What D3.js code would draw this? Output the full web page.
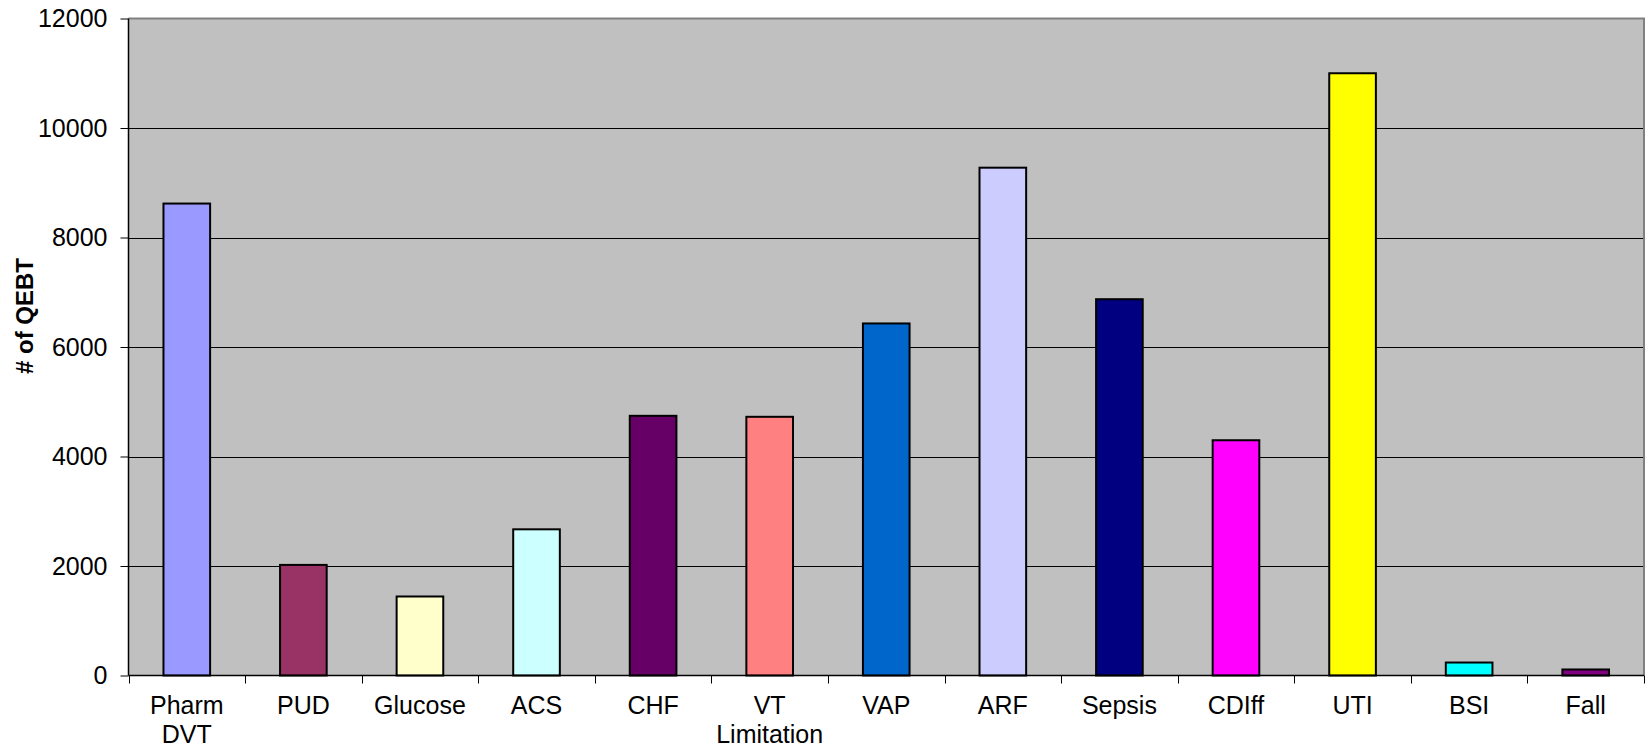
<!DOCTYPE html>
<html>
<head>
<meta charset="utf-8">
<script src="https://cdn.jsdelivr.net/npm/d3@7"></script>
<style>
  html, body { margin: 0; padding: 0; background: #ffffff; }
  svg { display: block; }
  text { font-family: "Liberation Sans", Arial, sans-serif; }
</style>
</head>
<body>
<svg id="chart" width="1652" height="747"></svg>
<script>
const categories = [["Pharm", "DVT"], ["PUD"], ["Glucose"], ["ACS"], ["CHF"], ["VT", "Limitation"], ["VAP"], ["ARF"], ["Sepsis"], ["CDIff"], ["UTI"], ["BSI"], ["Fall"]];
const values = [8620, 2020, 1443, 2670, 4743, 4725, 6430, 9275, 6873, 4297, 11000, 237, 110];
const colors = ["#9999FF", "#993366", "#FFFFCC", "#CCFFFF", "#660066", "#FF8080", "#0066CC", "#CCCCFF", "#000080", "#FF00FF", "#FFFF00", "#00FFFF", "#800080"];
const yTicks = [0, 2000, 4000, 6000, 8000, 10000, 12000];
const yTitle = "# of QEBT";

(function () {
const svg = d3.select("#chart");
const pL = 128.5, pR = 1644, pT = 18.5, pB = 675.5;

const keys = categories.map((c, i) => i);
const x = d3.scaleBand().domain(keys).range([pL, pR]).paddingInner(0.6).paddingOuter(0.3);
const xb = d3.scaleBand().domain(keys).range([pL, pR]);
const y = d3.scaleLinear().domain([0, 12000]).range([pB, pT]);

// plot background
svg.append("rect").attr("x", pL).attr("y", pT).attr("width", pR - pL).attr("height", pB - pT)
  .attr("fill", "#C0C0C0");

// gridlines
svg.append("g").selectAll("line").data(yTicks.filter(d => d > 0 && d < 12000)).join("line")
  .attr("x1", pL).attr("x2", pR)
  .attr("y1", d => Math.round(y(d)) + 0.5).attr("y2", d => Math.round(y(d)) + 0.5)
  .attr("stroke", "#000").attr("stroke-width", 1);

// plot border (top & right) gray
svg.append("path")
  .attr("d", `M${pL},${pT} H${pR} V${pB}`)
  .attr("fill", "none").attr("stroke", "#808080").attr("stroke-width", 2);

// bars
svg.append("g").selectAll("rect").data(values).join("rect")
  .attr("x", (d, i) => x(i))
  .attr("y", d => y(d))
  .attr("width", x.bandwidth())
  .attr("height", d => y(0) - y(d))
  .attr("fill", (d, i) => colors[i])
  .attr("stroke", "#000").attr("stroke-width", 2);

// y axis
const yAxis = d3.axisLeft(y).tickValues(yTicks).tickSize(8).tickPadding(13).tickFormat(d3.format("d"));
const gy = svg.append("g").attr("transform", `translate(${pL},0)`).call(yAxis);
gy.select(".domain").attr("stroke", "#000").attr("stroke-width", 1.5).attr("d", `M0,${pT}V${pB}`);
gy.selectAll(".tick line").attr("stroke", "#000");
gy.selectAll(".tick text").attr("font-size", 25).attr("font-family", "Liberation Sans, Arial, sans-serif").attr("fill", "#000");

// x axis
const xAxis = d3.axisBottom(xb).tickSize(0).tickFormat(() => "");
const gx = svg.append("g").attr("transform", `translate(0,${pB})`).call(xAxis);
gx.select(".domain").attr("stroke", "#000").attr("stroke-width", 1.5).attr("d", `M${pL},0H${pR}`);
// category boundary ticks
svg.append("g").selectAll("line").data(d3.range(categories.length + 1)).join("line")
  .attr("x1", i => Math.round(pL + i * xb.step()) + 0.5)
  .attr("x2", i => Math.round(pL + i * xb.step()) + 0.5)
  .attr("y1", pB).attr("y2", pB + 8)
  .attr("stroke", "#000").attr("stroke-width", 1);

// category labels
const lab = svg.append("g").selectAll("text").data(categories).join("text")
  .attr("x", (d, i) => xb(i) + xb.bandwidth() / 2)
  .attr("y", 714)
  .attr("text-anchor", "middle")
  .attr("font-size", 25)
  .attr("fill", "#000");
lab.each(function(d) {
  const t = d3.select(this);
  d.forEach((line, k) => {
    t.append("tspan").attr("x", t.attr("x")).attr("dy", k === 0 ? 0 : 29).text(line);
  });
});

// y title
svg.append("text")
  .attr("transform", `translate(33,316) rotate(-90)`)
  .attr("text-anchor", "middle")
  .attr("font-size", 24)
  .attr("font-weight", "bold")
  .attr("fill", "#000")
  .text(yTitle);
})();
</script>
</body>
</html>
